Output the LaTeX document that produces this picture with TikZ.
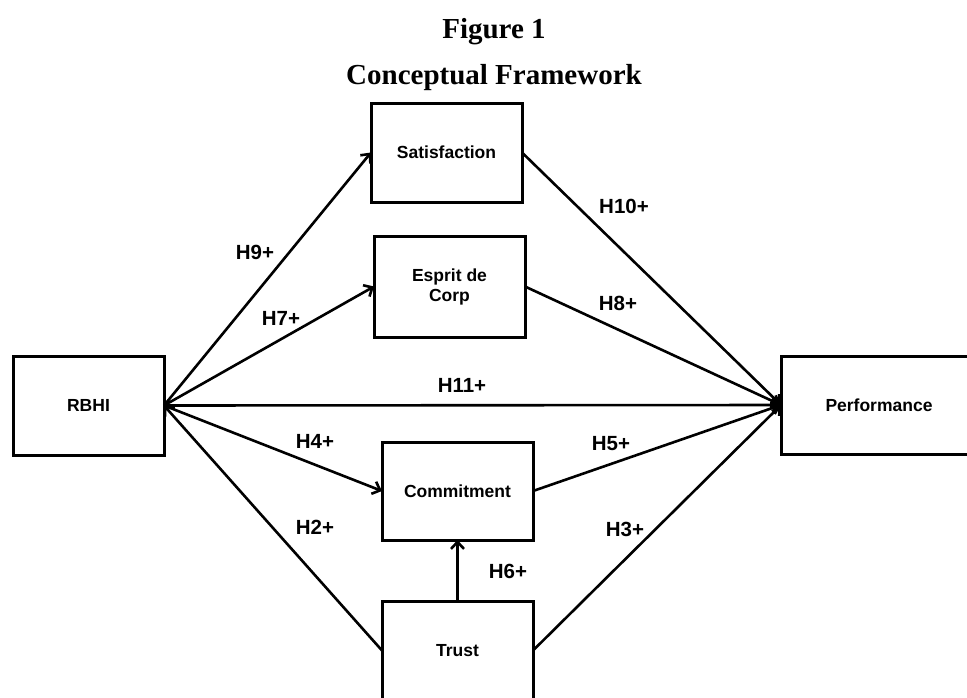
\documentclass[tikz,border=0pt]{standalone}
\usepackage{fontspec}
\setmainfont{Liberation Serif}
\newfontfamily\arialf{Liberation Sans}
\usetikzlibrary{arrows.meta}
\tikzset{
  box/.style={draw, line width=3pt, inner sep=0pt, outer sep=0pt, align=center,
    font=\arialf\bfseries\fontsize{17.5}{20}\selectfont},
  link/.style={line width=2.6pt},
  arr/.style={link, -{Straight Barb[length=7pt,width=13pt,line width=2.6pt]}},
  hyp/.style={font=\arialf\bfseries\fontsize{20.5}{24}\selectfont, inner sep=0pt},
  ttl/.style={font=\bfseries\fontsize{29}{34}\selectfont, anchor=base, inner sep=0pt}
}
\begin{document}
\begin{tikzpicture}[x=1pt,y=-1pt]
\useasboundingbox[fill=white] (0,0) rectangle (967,697);
\node[ttl] (t1) at (494,38) {Figure 1};
\node[ttl] (t2) at (494,84) {Conceptual Framework};

\node[box, minimum width=151pt, minimum height=99pt] (sat) at (446.5,152.5) {Satisfaction};
\node[box, minimum width=151pt, minimum height=101pt] (esp) at (449.5,286.5) {Esprit de\\Corp};
\node[box, minimum width=151pt, minimum height=99pt] (rbhi) at (88.5,405.5) {RBHI};
\node[box, minimum width=196pt, minimum height=98pt] (perf) at (879,405) {Performance};
\node[box, minimum width=151pt, minimum height=98pt] (com) at (457.5,491) {Commitment};
\node[box, minimum width=151pt, minimum height=99pt] (trust) at (457.5,650.5) {Trust};

\draw[arr] (rbhi.east) -- (sat.west);
\draw[arr] (rbhi.east) -- (esp.west);
\draw[arr] (rbhi.east) -- (perf.west);
\draw[arr] (rbhi.east) -- (com.west);
\draw[arr] (trust.west) -- (rbhi.east);
\draw[arr] (sat.east) -- (perf.west);
\draw[arr] (esp.east) -- (perf.west);
\draw[arr] (com.east) -- (perf.west);
\draw[arr] (trust.east) -- (perf.west);
\draw[arr] (trust.north) -- (com.south);

\node[hyp] (h9) at (255,252) {H9+};
\node[hyp] (h7) at (281,318) {H7+};
\node[hyp] (h11) at (462,385) {H11+};
\node[hyp] (h4) at (315,441) {H4+};
\node[hyp] (h2) at (315,527) {H2+};
\node[hyp] (h6) at (508,571) {H6+};
\node[hyp] (h10) at (624,206) {H10+};
\node[hyp] (h8) at (618,303) {H8+};
\node[hyp] (h5) at (611,444) {H5+};
\node[hyp] (h3) at (625,529) {H3+};
\end{tikzpicture}
\end{document}
